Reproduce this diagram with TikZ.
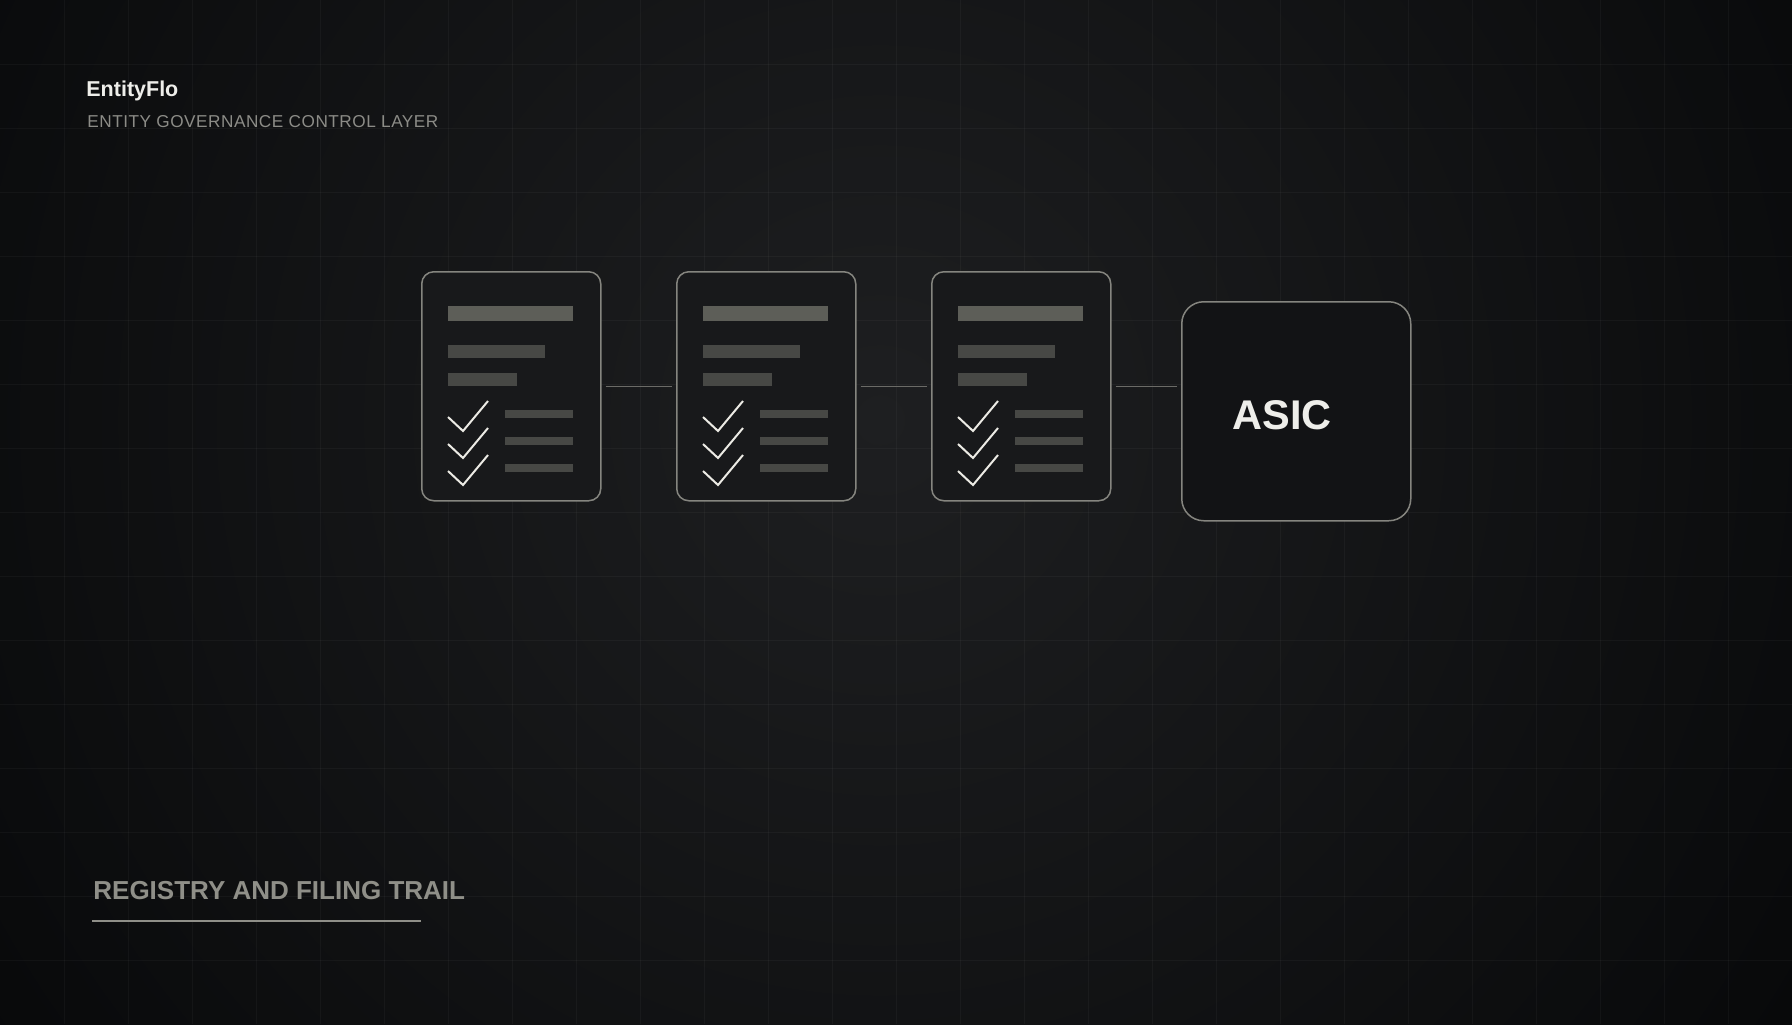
\documentclass[tikz,border=0pt]{standalone}
\usepackage{fontspec}
\setmainfont{Liberation Sans}
\usetikzlibrary{calc}

\definecolor{bgouter}{HTML}{060708}
\definecolor{bginner}{HTML}{1E1F21}
\definecolor{cardfill}{HTML}{18191B}
\definecolor{boxfill}{HTML}{121315}
\definecolor{edgegray}{HTML}{85857F}
\definecolor{linkgray}{HTML}{6B6B67}
\definecolor{barlight}{HTML}{5D5E58}
\definecolor{bardark}{HTML}{474845}
\definecolor{tickwhite}{HTML}{ECEBE5}
\definecolor{brandwhite}{HTML}{EEEEEA}
\definecolor{taggray}{HTML}{8C8C87}
\definecolor{sectiongray}{HTML}{8F8F88}

\begin{document}
\begin{tikzpicture}[%
x=0.5pt, y=-0.5pt,
gridline/.style={white, opacity=0.035, line width=0.5pt},
card/.style={draw=edgegray, line width=0.75pt, fill=cardfill, rounded corners=6pt, minimum width=89.5pt, minimum height=114.5pt, inner sep=0pt},
registrybox/.style={draw=edgegray, line width=0.75pt, fill=boxfill, rounded corners=11pt, minimum width=114.5pt, minimum height=109.5pt, inner sep=0pt},
link/.style={draw=linkgray, line width=0.75pt, shorten <=2pt, shorten >=2pt},
tick/.style={draw=tickwhite, line width=1pt},
]
\useasboundingbox (0,0) rectangle (1792,1024);
\begin{scope}
\clip (0,0) rectangle (1792,1024);
\shade[inner color=bginner, outer color=bgouter] (-300,-780) rectangle (2060,1620);
\end{scope}
%% grid;
\foreach \gx in {64,128,...,1728} \draw[gridline] (\gx,0) -- (\gx,1024);
\foreach \gy in {64,128,...,960} \draw[gridline] (0,\gy) -- (1792,\gy);
%% header;
\node[anchor=base west, inner sep=0pt, text=brandwhite, font=\fontsize{10.75pt}{12pt}\selectfont\bfseries] (brand) at (86,96) {EntityFlo};
\node[anchor=base west, inner sep=0pt, text=taggray, font=\fontsize{8.6pt}{10pt}\selectfont\addfontfeature{LetterSpace=3}] (tagline) at (87,127) {ENTITY GOVERNANCE CONTROL LAYER};
%% documents;
\foreach \n/\x in {1/421, 2/676, 3/931} {
  \node[card, anchor=north west] (doc\n) at (\x,271) {};
  \begin{scope}[shift={(\x,271)}]
    \fill[barlight] (27,35) rectangle (152,50);
    \fill[bardark] (27,74) rectangle (124,87);
    \fill[bardark] (27,102) rectangle (96,115);
    \foreach \dy in {0,27,54} {
      \fill[bardark] (84,139+\dy) rectangle (152,147+\dy);
      \draw[tick] (27,146+\dy) -- (42,160+\dy) -- (67,130+\dy);
    }
  \end{scope}
}
%% registry;
\node[registrybox, anchor=north west] (asic) at (1181,301) {};
\node[anchor=base west, inner sep=0pt, text=brandwhite, font=\fontsize{20.75pt}{24pt}\selectfont\bfseries] (asiclabel) at (1232,429) {ASIC};
%% links;
\draw[link] (doc1.east) -- (doc2.west);
\draw[link] (doc2.east) -- (doc3.west);
\draw[link] (doc3.east) -- (doc3.east -| asic.west);
%% footer;
\node[anchor=base west, inner sep=0pt, text=sectiongray, font=\fontsize{13pt}{15pt}\selectfont\bfseries] (section) at (93,899) {REGISTRY AND FILING TRAIL};
\draw[draw=sectiongray, line width=1pt] (92,921) -- (421,921);
\end{tikzpicture}
\end{document}
